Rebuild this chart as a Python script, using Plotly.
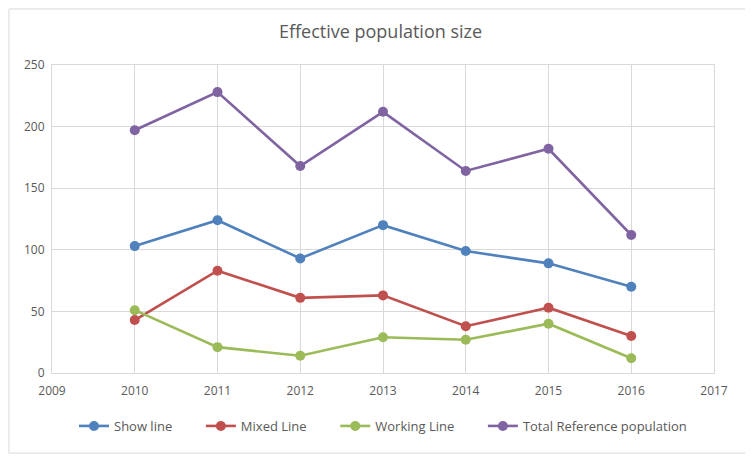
import plotly.graph_objects as go

years = [2010, 2011, 2012, 2013, 2014, 2015, 2016]
show_line = [103, 124, 93, 120, 99, 89, 70]
mixed_line = [43, 83, 61, 63, 38, 53, 30]
working_line = [51, 21, 14, 29, 27, 40, 12]
total_reference = [197, 228, 168, 212, 164, 182, 112]

series = [
    ("Show line", show_line, "#4F81BD"),
    ("Mixed Line", mixed_line, "#C0504D"),
    ("Working Line", working_line, "#9BBB59"),
    ("Total Reference population", total_reference, "#8064A2"),
]

fig = go.Figure()
for i, (name, vals, color) in enumerate(series):
    # pad the legend labels so the items are spread out like the original
    label = name if i == len(series) - 1 else name + "\u00a0" * 7
    fig.add_trace(go.Scatter(
        x=years, y=vals, name=label, mode="lines+markers",
        line=dict(color=color, width=2.6),
        marker=dict(color=color, size=10),
    ))

grid = "#D9D9D9"
text_color = "#595959"

# the page body has an 8px margin, so the figure is a bit smaller than the window
fig.update_layout(
    width=745, height=448,
    margin=dict(l=44, r=39, t=57, b=83),
    paper_bgcolor="white", plot_bgcolor="white",
    font=dict(family="Open Sans, Noto Sans, sans-serif", size=12, color=text_color),
    title=dict(text="Effective population size", x=0.5, xanchor="center",
               y=0.946, yanchor="middle", font=dict(size=18, color=text_color)),
    showlegend=True,
    legend=dict(orientation="h", x=0.5, xanchor="center", y=-0.172, yanchor="middle",
                font=dict(size=13, color=text_color)),
    xaxis=dict(range=[2009, 2017], tickvals=list(range(2009, 2018)), showgrid=True,
               gridcolor=grid, gridwidth=1, showline=True, linecolor=grid,
               mirror=True, zeroline=False, ticks="", ticklabelstandoff=7),
    yaxis=dict(range=[0, 250], dtick=50, showgrid=True, gridcolor=grid, gridwidth=1,
               showline=True, linecolor=grid, mirror=True, zeroline=False, ticks="",
               ticklabelstandoff=4),
    shapes=[dict(type="rect", xref="paper", yref="paper", x0=-0.065, x1=1.051,
                 y0=-0.26, y1=1.182, line=dict(color="#D9D9D9", width=1))],
)

fig.write_html("out.html")
